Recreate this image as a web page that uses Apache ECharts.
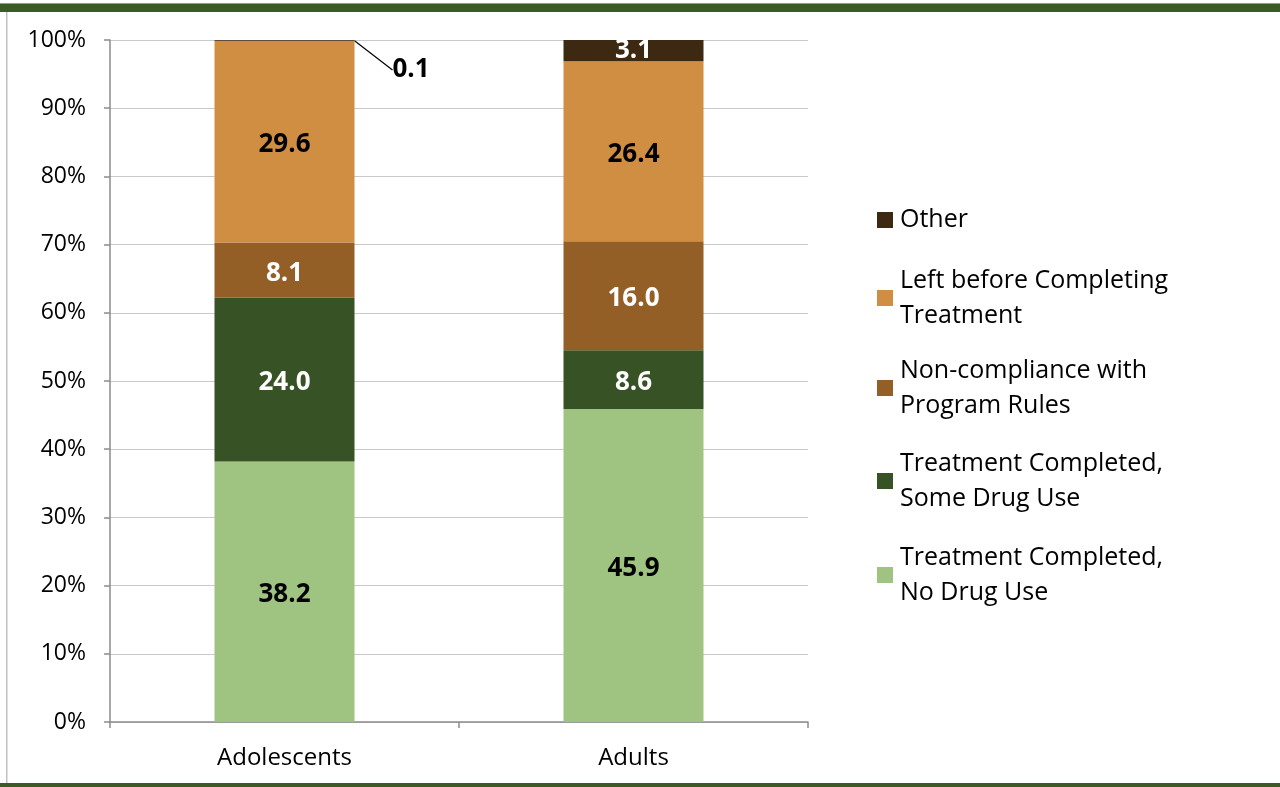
<!DOCTYPE html>
<html><head><meta charset="utf-8">
<script src="https://cdn.jsdelivr.net/npm/echarts@6/dist/echarts.min.js"></script>
<style>html,body{margin:0;padding:0;background:#fff}#c{width:1280px;height:787px}</style>
</head><body><div id="c"></div>
<script>
const categories = ['Adolescents', 'Adults'];
const seriesNames = ['Treatment Completed, No Drug Use', 'Treatment Completed, Some Drug Use', 'Non-compliance with Program Rules', 'Left before Completing Treatment', 'Other'];
const noDrugUse = [38.2, 45.9];
const someDrugUse = [24.0, 8.6];
const nonCompliance = [8.1, 16.0];
const leftBefore = [29.6, 26.4];
const other = [0.1, 3.1];
const yTickLabels = ['0%','10%','20%','30%','40%','50%','60%','70%','80%','90%','100%'];

const FONT = 'Open Sans';
const colors = ['#9fc482', '#375224', '#935f27', '#d08e42', '#3d2812'];
const labelColors = ['#000', '#fff', '#fff', '#000', '#fff'];
const legendText = {
  'Other': 'Other',
  'Left before Completing Treatment': 'Left before Completing\nTreatment',
  'Non-compliance with Program Rules': 'Non-compliance with\nProgram Rules',
  'Treatment Completed, Some Drug Use': 'Treatment Completed,\nSome Drug Use',
  'Treatment Completed, No Drug Use': 'Treatment Completed,\nNo Drug Use'
};
const legendTops = {
  'Other': 202.5,
  'Left before Completing Treatment': 245.5,
  'Non-compliance with Program Rules': 335.5,
  'Treatment Completed, Some Drug Use': 428.5,
  'Treatment Completed, No Drug Use': 522.5
};
const allData = [noDrugUse, someDrugUse, nonCompliance, leftBefore, other];

const series = allData.map((arr, si) => ({
  name: seriesNames[si],
  type: 'bar',
  stack: 'total',
  barWidth: 140,
  itemStyle: { color: colors[si] },
  label: {
    show: true, position: 'inside', color: labelColors[si],
    fontFamily: FONT, fontWeight: 'bold', fontSize: 26, offset: [0, 3],
    formatter: p => p.value.toFixed(1)
  },
  data: arr.map((v, di) => {
    if (si === 4 && di === 0) {
      return { value: v, label: { color: '#000' }, labelLine: { show: true, lineStyle: { color: '#000', width: 1.2 } } };
    }
    return { value: v };
  }),
  labelLayout: (si === 4) ? function (params) {
    if (params.dataIndex === 0) {
      return { x: params.rect.x + params.rect.width + 38, y: params.rect.y + 30, align: 'left', verticalAlign: 'middle' };
    }
  } : undefined
}));

const legends = seriesNames.slice().reverse().map(name => {
  const twoLine = legendText[name].indexOf('\n') >= 0;
  return {
    data: [name], orient: 'vertical', left: 877, top: legendTops[name], padding: 0,
    icon: 'rect', itemWidth: 16, itemHeight: 16, itemGap: 0, selectedMode: false,
    formatter: n => legendText[n],
    textStyle: { fontFamily: FONT, fontSize: 25, color: '#000', lineHeight: 35, padding: twoLine ? [35, 0, 0, 2] : [0, 0, 0, 2] }
  };
});

const chart = echarts.init(document.getElementById('c'));
chart.setOption({
  animation: false,
  grid: { left: 110, right: 472, top: 40, bottom: 65 },
  legend: legends,
  xAxis: {
    type: 'category', data: categories,
    axisLine: { lineStyle: { color: '#8c8c8c', width: 1.5 } },
    axisTick: { show: true, length: 6, lineStyle: { color: '#8c8c8c', width: 1.5 } },
    axisLabel: { fontFamily: FONT, fontSize: 24, color: '#000', margin: 24 }
  },
  yAxis: {
    type: 'value', min: 0, max: 100, interval: 10,
    axisLine: { show: true, lineStyle: { color: '#8c8c8c', width: 1.5 } },
    axisTick: { show: true, length: 6, lineStyle: { color: '#8c8c8c', width: 1.5 } },
    splitLine: { lineStyle: { color: '#c9c9c9', width: 1.2 } },
    axisLabel: { fontFamily: FONT, fontSize: 23, color: '#000', margin: 24, formatter: v => yTickLabels[Math.round(v / 10)] }
  },
  series: series,
  graphic: [
    { type: 'rect', shape: { x: 0, y: 4, width: 1280, height: 8 }, style: { fill: '#3c5a26' }, silent: true },
    { type: 'rect', shape: { x: 0, y: 3, width: 1280, height: 1 }, style: { fill: '#9a9a8a' }, silent: true },
    { type: 'rect', shape: { x: 0, y: 783, width: 1280, height: 4 }, style: { fill: '#3c5a26' }, silent: true },
    { type: 'rect', shape: { x: 6, y: 12, width: 1.5, height: 771 }, style: { fill: '#c0c0c0' }, silent: true }
  ]
});
</script>
</body></html>
